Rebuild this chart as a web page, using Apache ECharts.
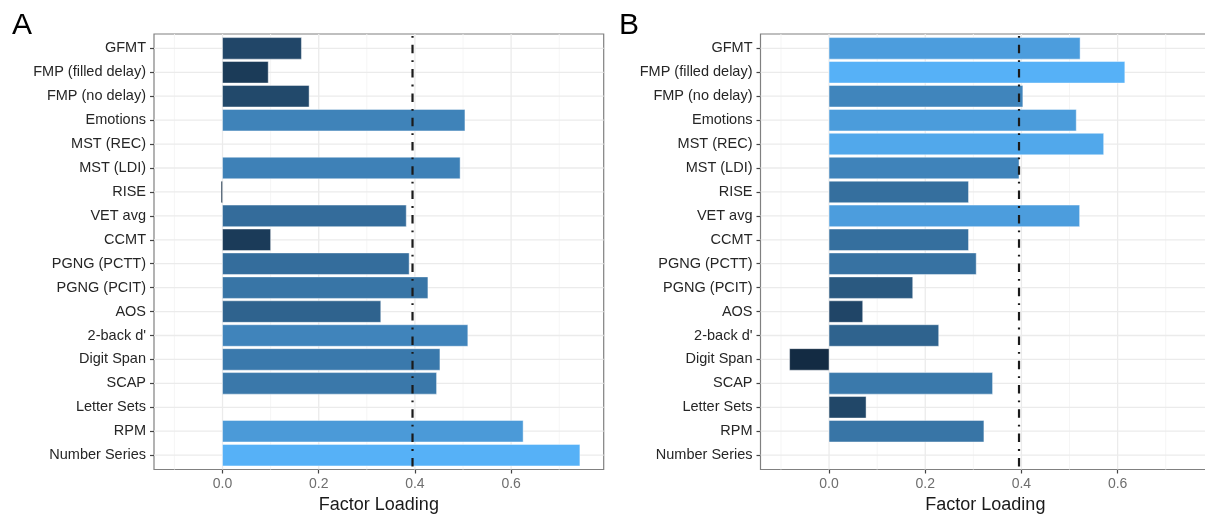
<!DOCTYPE html>
<html>
<head>
<meta charset="utf-8">
<script src="https://cdn.jsdelivr.net/npm/echarts@6/dist/echarts.min.js"></script>
<style>
  html, body { margin: 0; padding: 0; background: #ffffff; }
  #chart { width: 1205px; height: 515px; }
</style>
</head>
<body>
<div id="chart"></div>
<script>
// Tasks, top to bottom
const categories = [
  'GFMT', 'FMP (filled delay)', 'FMP (no delay)', 'Emotions', 'MST (REC)',
  'MST (LDI)', 'RISE', 'VET avg', 'CCMT', 'PGNG (PCTT)', 'PGNG (PCIT)', 'AOS',
  "2-back d'", 'Digit Span', 'SCAP', 'Letter Sets', 'RPM', 'Number Series'
];
// Factor loadings (null = task not loaded on this factor)
const loadingsA = [0.164, 0.095, 0.180, 0.504, null, 0.494, -0.003, 0.382, 0.100,
  0.388, 0.427, 0.329, 0.510, 0.452, 0.445, null, 0.625, 0.743];
const loadingsB = [0.522, 0.615, 0.403, 0.514, 0.571, 0.395, 0.290, 0.521, 0.290,
  0.306, 0.174, 0.070, 0.228, -0.082, 0.340, 0.077, 0.322, null];
const panelLetters = ['A', 'B'];
const xTicks = [0, 0.2, 0.4, 0.6];
const xMinorTicks = [-0.1, 0.1, 0.3, 0.5, 0.7];
const cutoff = 0.395;
const xLimits = [-0.1, 0.75];

// ---- colour gradient (interpolated in CIE Lab, low -> high) ----
const LOW = '#132B43', HIGH = '#56B1F7';
function hexToLab(hex) {
  const c = [1, 3, 5].map(i => parseInt(hex.slice(i, i + 2), 16) / 255)
    .map(v => v <= 0.04045 ? v / 12.92 : Math.pow((v + 0.055) / 1.055, 2.4));
  const X = (0.4124564 * c[0] + 0.3575761 * c[1] + 0.1804375 * c[2]) / 0.95047;
  const Y = (0.2126729 * c[0] + 0.7151522 * c[1] + 0.0721750 * c[2]);
  const Z = (0.0193339 * c[0] + 0.1191920 * c[1] + 0.9503041 * c[2]) / 1.08883;
  const f = t => t > 0.008856 ? Math.cbrt(t) : 7.787 * t + 16 / 116;
  const fx = f(X), fy = f(Y), fz = f(Z);
  return [116 * fy - 16, 500 * (fx - fy), 200 * (fy - fz)];
}
function labToHex(lab) {
  const fy = (lab[0] + 16) / 116, fx = fy + lab[1] / 500, fz = fy - lab[2] / 200;
  const inv = t => t * t * t > 0.008856 ? t * t * t : (t - 16 / 116) / 7.787;
  const X = inv(fx) * 0.95047, Y = inv(fy), Z = inv(fz) * 1.08883;
  let r = 3.2404542 * X - 1.5371385 * Y - 0.4985314 * Z;
  let g = -0.9692660 * X + 1.8760108 * Y + 0.0415560 * Z;
  let b = 0.0556434 * X - 0.2040259 * Y + 1.0572252 * Z;
  return '#' + [r, g, b].map(v => {
    v = v <= 0.0031308 ? 12.92 * v : 1.055 * Math.pow(v, 1 / 2.4) - 0.055;
    const n = Math.max(0, Math.min(255, Math.round(v * 255)));
    return n.toString(16).padStart(2, '0');
  }).join('');
}
const labLow = hexToLab(LOW), labHigh = hexToLab(HIGH);
function gradient(t) {
  return labToHex(labLow.map((v, i) => v + (labHigh[i] - v) * t));
}

// ---- layout ----
const chart = echarts.init(document.getElementById('chart'), null, { renderer: 'canvas' });
const expandX = (xLimits[1] - xLimits[0]) * 0.05;
const xMin = xLimits[0] - expandX, xMax = xLimits[1] + expandX;
const gridLefts = [154, 760.5];
const gridTop = 34, gridHeight = 435.5, gridWidth = 449.7;
const font = 'Liberation Sans, Arial, Helvetica, sans-serif';

const grids = [], xAxes = [], yAxes = [], series = [], titles = [];

function gridlineItems() {
  const items = [];
  xMinorTicks.forEach(v => items.push([v, 0, 1]));
  xTicks.forEach(v => items.push([v, 0, 0]));
  categories.forEach((c, i) => items.push([0, i, 2]));
  return items;
}

[loadingsA, loadingsB].forEach((values, p) => {
  grids.push({
    left: gridLefts[p], top: gridTop, width: gridWidth, height: gridHeight,
    show: true, borderColor: '#808080', borderWidth: 1.2, backgroundColor: '#ffffff',
    containLabel: false, outerBoundsMode: 'none'
  });
  xAxes.push({
    type: 'value', gridIndex: p, min: xMin, max: xMax, position: 'bottom',
    name: 'Factor Loading', nameLocation: 'middle', nameGap: 23,
    nameTextStyle: { fontFamily: font, fontSize: 18, color: '#1a1a1a' },
    axisLine: { show: false, onZero: false },
    axisTick: { show: true, length: 4, customValues: xTicks, lineStyle: { color: '#444', width: 1.2 } },
    axisLabel: {
      customValues: xTicks, margin: 8, fontFamily: font, fontSize: 14, color: '#6e6e6e',
      formatter: v => Number(v).toFixed(1)
    },
    splitLine: { show: false }
  });
  yAxes.push({
    type: 'value', gridIndex: p, min: -0.6, max: categories.length - 1 + 0.6, inverse: true,
    position: 'left',
    axisLine: { show: false, onZero: false },
    axisTick: { show: true, length: 4, customValues: categories.map((c, i) => i), lineStyle: { color: '#444', width: 1.2 } },
    axisLabel: {
      customValues: categories.map((c, i) => i), margin: 8, fontFamily: font, fontSize: 14.5, color: '#262626',
      formatter: v => categories[Math.round(v)]
    },
    splitLine: { show: false }
  });

  // background grid lines
  series.push({
    type: 'custom', xAxisIndex: p, yAxisIndex: p, z: 1, silent: true,
    data: gridlineItems(),
    encode: { x: 0, y: 1 },
    renderItem: (params, api) => {
      const cs = params.coordSys;
      const kind = api.value(2);
      if (kind === 2) {
        const y = api.coord([0, api.value(1)])[1];
        return { type: 'line', shape: { x1: cs.x, y1: y, x2: cs.x + cs.width, y2: y },
          style: { stroke: '#ebebeb', lineWidth: 1.3 } };
      }
      const x = api.coord([api.value(0), 0])[0];
      return { type: 'line', shape: { x1: x, y1: cs.y, x2: x, y2: cs.y + cs.height },
        style: { stroke: kind === 0 ? '#ebebeb' : '#f4f4f4', lineWidth: kind === 0 ? 1.3 : 0.9 } };
    }
  });

  // bars, filled by loading on a dark-to-light blue scale
  const present = values.filter(v => v !== null);
  const vMin = Math.min(...present), vMax = Math.max(...present);
  const barData = [];
  values.forEach((v, i) => { if (v !== null) barData.push([i, v]); });
  series.push({
    type: 'custom', xAxisIndex: p, yAxisIndex: p, z: 2,
    data: barData,
    encode: { y: 0, x: 1 },
    renderItem: (params, api) => {
      const idx = api.value(0), v = api.value(1);
      const p0 = api.coord([0, idx]);
      const p1 = api.coord([v, idx]);
      const h = api.size([0, 0.9])[1];
      return {
        type: 'rect',
        shape: { x: Math.min(p0[0], p1[0]), y: p0[1] - h / 2, width: Math.abs(p1[0] - p0[0]), height: h },
        style: { fill: gradient((v - vMin) / (vMax - vMin)), stroke: 'rgba(255,255,255,0.55)', lineWidth: 0.8 }
      };
    }
  });

  // loading cut-off line
  series.push({
    type: 'custom', xAxisIndex: p, yAxisIndex: p, z: 3, silent: true,
    data: [[cutoff, 0]],
    encode: { x: 0, y: 1 },
    renderItem: (params, api) => {
      const cs = params.coordSys;
      const x = api.coord([api.value(0), 0])[0];
      return { type: 'line', shape: { x1: x, y1: cs.y, x2: x, y2: cs.y + cs.height },
        style: { stroke: '#1a1a1a', lineWidth: 2.2, lineDash: [1.8, 7, 8.5, 7], lineDashOffset: -2 } };
    }
  });

  titles.push({
    text: panelLetters[p], left: p === 0 ? 7 : 614, top: 6,
    textStyle: { fontFamily: font, fontSize: 30, fontWeight: 'normal', color: '#000000' }
  });
});

chart.setOption({
  animation: false,
  backgroundColor: '#ffffff',
  title: titles,
  grid: grids,
  xAxis: xAxes,
  yAxis: yAxes,
  series: series
});
</script>
</body>
</html>
